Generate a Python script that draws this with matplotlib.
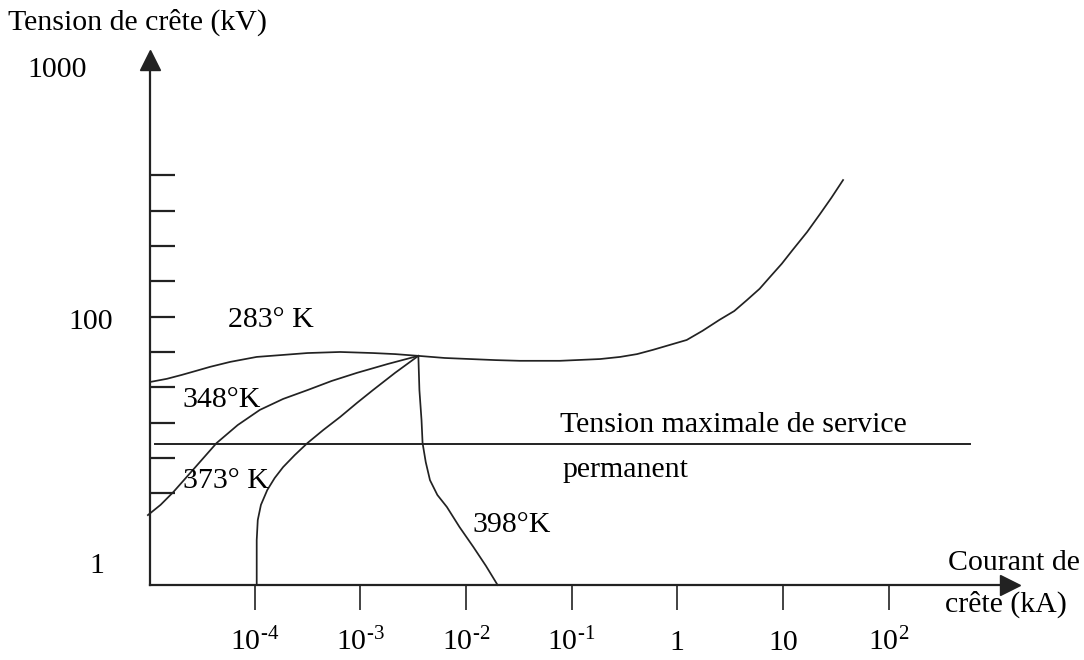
import numpy as np
import matplotlib.pyplot as plt

plt.rcParams['font.family'] = ['Liberation Serif', 'DejaVu Serif']
plt.rcParams['mathtext.fontset'] = 'custom'
plt.rcParams['mathtext.rm'] = 'Liberation Serif'
plt.rcParams['mathtext.it'] = 'Liberation Serif:italic'

# axe x : exposant de 10 du courant de crête (kA)
decades = [-4, -3, -2, -1, 0, 1, 2]
decade_labels = [r'$10^{\text{-4}}$', r'$10^{\text{-3}}$', r'$10^{\text{-2}}$',
                 r'$10^{\text{-1}}$', '1', '10', r'$10^{2}$']

# axe y : échelle du schéma (graduations sans valeur)
volt_marks = [2, 3, 4, 5, 6, 7, 8, 9, 10, 11]
volt_labels = ['1', '100', '1000']
volt_label_pos = [-0.05, 6.85, 14]

# courbes tension / courant
t283_x = [-4.99, -4.83, -4.69, -4.56, -4.42, -4.23, -3.98, -3.76, -3.50, -3.19, -2.88,
          -2.67, -2.45, -2.20, -1.96, -1.72, -1.49, -1.11, -0.73, -0.54, -0.38, -0.23,
          -0.07, 0.09, 0.24, 0.40, 0.54, 0.66, 0.78, 0.88, 0.99, 1.09, 1.23, 1.35, 1.46, 1.57]
t283_y = [5.15, 5.24, 5.35, 5.46, 5.58, 5.72, 5.86, 5.91, 5.97, 6.00, 5.97,
          5.94, 5.89, 5.83, 5.80, 5.77, 5.75, 5.75, 5.80, 5.86, 5.94, 6.06,
          6.20, 6.34, 6.60, 6.91, 7.16, 7.47, 7.79, 8.13, 8.50, 8.88, 9.40, 9.90, 10.37, 10.87]

t348_x = [-5.01, -4.89, -4.77, -4.56, -4.36, -4.16, -3.95, -3.73, -3.50, -3.27, -3.03, -2.74, -2.45]
t348_y = [1.38, 1.67, 2.03, 2.74, 3.42, 3.93, 4.36, 4.67, 4.92, 5.18, 5.41, 5.66, 5.89]

t373_x = [-3.98, -3.98, -3.97, -3.94, -3.88, -3.81, -3.73, -3.62, -3.50, -3.35, -3.19,
          -3.03, -2.88, -2.67, -2.45]
t373_y = [-0.6, 0.67, 1.24, 1.67, 2.09, 2.43, 2.74, 3.08, 3.42, 3.79, 4.16,
          4.56, 4.92, 5.41, 5.89]

t398_x = [-2.45, -2.44, -2.42, -2.41, -2.38, -2.34, -2.27, -2.18, -2.06, -1.93, -1.81, -1.70]
t398_y = [5.89, 4.92, 4.07, 3.42, 2.88, 2.37, 1.95, 1.61, 1.04, 0.48, -0.06, -0.6]

service_x = [-4.94, 2.77]
service_y = [3.39, 3.39]

ink = '#222222'

fig = plt.figure(figsize=(10.84, 6.6), dpi=100)
ax = fig.add_axes([150 / 1084, 1 - 585 / 660, (1010 - 150) / 1084, (585 - 60) / 660])
ax.set_xlim(-4.99, 3.15)
ax.set_ylim(-0.6, 14.27)

for xs, ys in [(t283_x, t283_y), (t348_x, t348_y), (t373_x, t373_y), (t398_x, t398_y)]:
    ax.plot(xs, ys, color=ink, lw=1.25, clip_on=False, solid_joinstyle='round')
ax.plot(service_x, service_y, color=ink, lw=1.4)

for s in ['top', 'right']:
    ax.spines[s].set_visible(False)
for s in ['left', 'bottom']:
    ax.spines[s].set_color(ink)
    ax.spines[s].set_linewidth(1.6)

# flèches des axes
ax.plot(0, 1, '^', color=ink, ms=15, transform=ax.transAxes, clip_on=False)
ax.plot(1, 0, '>', color=ink, ms=15, transform=ax.transAxes, clip_on=False)

ax.set_xticks(decades, decade_labels)
ax.tick_params(axis='x', direction='out', length=18, width=1.2, color=ink,
               labelsize=21.5, pad=29)
for lbl in ax.get_xticklabels():
    lbl.set_va('baseline')

ax.set_yticks([])
ax.set_yticks(volt_marks, minor=True)
ax.tick_params(axis='y', which='minor', direction='in', length=18, width=1.6, color=ink)

for lab, yp, xp in zip(volt_labels, volt_label_pos, [-5.49, -5.55, -5.87]):
    ax.text(xp, yp, lab, fontsize=21.5, ha='center', va='center', clip_on=False)

ax.text(-3.85, 6.91, '283° K', fontsize=21.5, ha='center', va='center')
ax.text(-4.31, 4.64, '348°K', fontsize=21.5, ha='center', va='center')
ax.text(-4.27, 2.35, '373° K', fontsize=21.5, ha='center', va='center')
ax.text(-1.57, 1.10, '398°K', fontsize=21.5, ha='center', va='center')
ax.text(-1.11, 3.93, 'Tension maximale de service', fontsize=21.5, ha='left', va='center')
ax.text(-1.09, 2.66, 'permanent', fontsize=21.5, ha='left', va='center')

fig.text(8 / 1084, 1 - 22 / 660, 'Tension de crête (kV)', fontsize=21.5, ha='left', va='center')
fig.text(948 / 1084, 1 - 563 / 660, 'Courant de', fontsize=21.5, ha='left', va='center')
fig.text(945 / 1084, 1 - 604 / 660, 'crête (kA)', fontsize=21.5, ha='left', va='center')

fig.savefig('out.png', dpi=100, facecolor='white')
